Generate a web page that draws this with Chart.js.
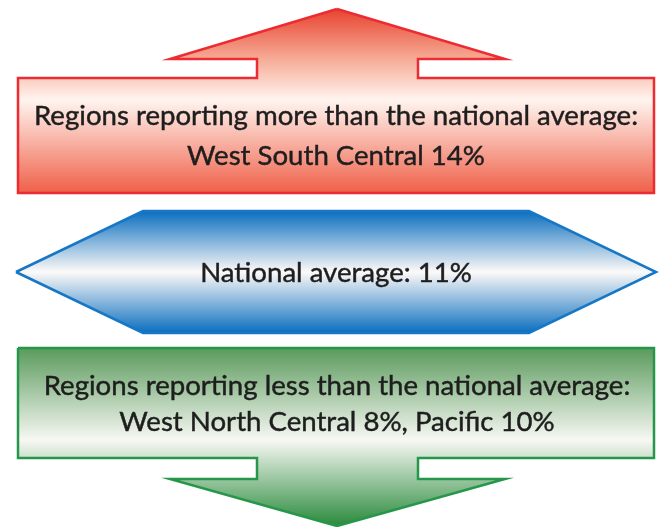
<!DOCTYPE html>
<html>
<head>
<meta charset="utf-8">
<title>National average</title>
<script src="https://cdn.jsdelivr.net/npm/chart.js@4.4.1/dist/chart.umd.min.js"></script>
<style>
  html, body { margin: 0; padding: 0; background: #ffffff; }
  #wrap { width: 662px; height: 527px; }
</style>
</head>
<body>
<div id="wrap"><canvas id="chart" width="662" height="527"></canvas></div>
<script>
// ---- data ----
const nationalAverage = [11];
const aboveRegions = ["West South Central"];
const aboveValues = [14];
const belowRegions = ["West North Central", "Pacific"];
const belowValues = [8, 10];

const aboveTitle = "Regions reporting more than the national average:";
const averageTitle = "National average:";
const belowTitle = "Regions reporting less than the national average:";

// ---- shape outlines (canvas units, drawn through the x / y scales) ----
const upArrow = [
  [337, 9], [505, 59], [418, 59], [418, 78], [654, 78], [654, 193],
  [18, 193], [18, 78], [257, 78], [257, 59], [170, 59], [337, 9]
];
const hexagon = [
  [16, 272], [143, 211], [529, 211], [656, 272], [529, 333], [143, 333], [16, 272]
];
const downArrow = [
  [18, 348], [654, 348], [654, 458], [418, 458], [418, 479], [505, 479],
  [337, 526], [170, 479], [257, 479], [257, 458], [18, 458], [18, 348]
];

function pct(v) { return v + "%"; }
function joinRegions(names, values) {
  return names.map((n, i) => n + " " + pct(values[i])).join(", ");
}

const labels = [
  { lines: [aboveTitle, joinRegions(aboveRegions, aboveValues)], x: 336, y: [116, 156] },
  { lines: [averageTitle + " " + pct(nationalAverage[0])], x: 336, y: [273] },
  { lines: [belowTitle, joinRegions(belowRegions, belowValues)], x: 337, y: [386, 422] }
];

function toPoints(list) {
  return list.map(p => ({ x: p[0], y: p[1] }));
}

function gradient(stops) {
  return function (context) {
    const chart = context.chart;
    if (!chart.chartArea) return "transparent";
    const y = chart.scales.y;
    const y0 = y.getPixelForValue(stops[0][0]);
    const y1 = y.getPixelForValue(stops[stops.length - 1][0]);
    const g = chart.ctx.createLinearGradient(0, y0, 0, y1);
    const span = stops[stops.length - 1][0] - stops[0][0];
    stops.forEach(s => g.addColorStop((s[0] - stops[0][0]) / span, s[1]));
    return g;
  };
}

const labelPlugin = {
  id: "boxLabels",
  afterDatasetsDraw(chart) {
    const c = chart.ctx;
    const sx = chart.scales.x, sy = chart.scales.y;
    const family = "'Lato', 'DejaVu Sans', sans-serif";
    c.save();
    // size the text so the widest title spans the box like the original
    c.font = "100px " + family;
    const size = 100 * 604 / c.measureText(aboveTitle).width;
    c.font = size.toFixed(1) + "px " + family;
    c.fillStyle = "#1e1e1e";
    c.strokeStyle = "#1e1e1e";
    c.lineWidth = 0.45;
    c.textAlign = "center";
    c.textBaseline = "middle";
    labels.forEach(l => {
      l.lines.forEach((t, i) => {
        const px = sx.getPixelForValue(l.x), py = sy.getPixelForValue(l.y[i]);
        c.fillText(t, px, py);
        c.strokeText(t, px, py);
      });
    });
    c.restore();
  }
};

function shape(points, border, fill) {
  return {
    data: toPoints(points),
    showLine: true,
    fill: "shape",
    tension: 0,
    borderColor: border,
    borderWidth: 2.5,
    borderJoinStyle: "miter",
    pointRadius: 0,
    pointHoverRadius: 0,
    backgroundColor: fill
  };
}

new Chart(document.getElementById("chart"), {
  type: "scatter",
  data: {
    datasets: [
      shape(upArrow, "#ec2b33", gradient([[9, "#e8432f"], [60, "#f6ad98"], [100, "#fff4ef"], [193, "#ef6048"]])),
      shape(hexagon, "#1677c6", gradient([[211, "#0a6ebf"], [272, "#fdfaf8"], [333, "#0a6ebf"]])),
      shape(downArrow, "#26974a", gradient([[348, "#5a9a5c"], [440, "#f7f8f3"], [526, "#2a8a3c"]]))
    ]
  },
  options: {
    responsive: false,
    animation: false,
    events: [],
    layout: { padding: 0 },
    plugins: { legend: { display: false }, tooltip: { enabled: false } },
    scales: {
      x: { type: "linear", min: 0, max: 662, display: false },
      y: { type: "linear", min: 0, max: 527, reverse: true, display: false }
    }
  },
  plugins: [labelPlugin]
});
</script>
</body>
</html>
